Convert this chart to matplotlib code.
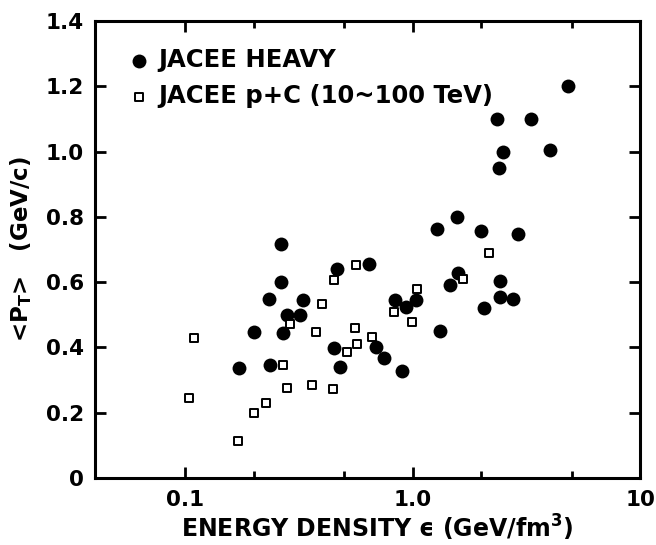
import numpy as np
import matplotlib
matplotlib.use("Agg")
import matplotlib.pyplot as plt
from matplotlib.ticker import FixedLocator, NullFormatter

plt.rcParams['font.family'] = ['DejaVu Sans']
plt.rcParams['mathtext.fontset'] = 'dejavusans'

# JACEE heavy (filled circles)
heavy_eps = [4.8, 2.34, 3.3, 2.5, 4.0, 2.4, 1.28, 1.56, 2.0, 2.9,
             0.265, 0.265, 0.233, 0.33, 0.28, 0.32, 0.2, 0.27, 0.173, 0.237,
             0.466, 0.64, 0.453, 0.48, 0.69, 0.75, 0.9, 0.84, 0.93, 1.03,
             1.32, 1.46, 1.58, 2.05, 2.41, 2.42, 2.75]
heavy_pt = [1.20, 1.10, 1.10, 1.00, 1.005, 0.95, 0.763, 0.80, 0.757, 0.749,
            0.717, 0.60, 0.549, 0.546, 0.50, 0.50, 0.447, 0.444, 0.337, 0.345,
            0.64, 0.656, 0.398, 0.34, 0.401, 0.368, 0.328, 0.547, 0.525, 0.547,
            0.452, 0.592, 0.628, 0.521, 0.603, 0.556, 0.55]

# JACEE p+C (open squares)
pc_eps = [0.109, 0.104, 0.171, 0.2, 0.226, 0.268, 0.28, 0.29, 0.36, 0.375,
          0.4, 0.45, 0.447, 0.565, 0.555, 0.567, 0.515, 0.664, 0.83, 1.04,
          0.99, 1.66, 2.17]
pc_pt = [0.428, 0.246, 0.113, 0.198, 0.23, 0.347, 0.277, 0.471, 0.284, 0.448,
         0.533, 0.608, 0.274, 0.652, 0.46, 0.41, 0.386, 0.432, 0.508, 0.58,
         0.477, 0.61, 0.69]

xticks = [0.1, 1.0, 10]
xtick_labels = ['0.1', '1.0', '10']
yticks = [0, 0.2, 0.4, 0.6, 0.8, 1.0, 1.2, 1.4]
ytick_labels = ['0', '0.2', '0.4', '0.6', '0.8', '1.0', '1.2', '1.4']

fig = plt.figure(figsize=(6.56, 5.45), dpi=100)
ax = fig.add_axes([0.145, 0.123, 0.831, 0.838])

ax.scatter(heavy_eps, heavy_pt, s=100, c='black', marker='o', linewidths=0,
           label='JACEE HEAVY', zorder=3)
ax.scatter(pc_eps, pc_pt, s=32, facecolors='white', edgecolors='black',
           marker='s', linewidths=1.4, label='JACEE p+C (10~100 TeV)', zorder=4)

ax.set_xscale('log')
ax.set_xlim(0.0402, 10)
ax.set_ylim(0, 1.4)

ax.xaxis.set_major_locator(FixedLocator(xticks))
ax.set_xticklabels(xtick_labels)
ax.xaxis.set_minor_locator(FixedLocator([0.2, 0.5, 2, 5]))
ax.xaxis.set_minor_formatter(NullFormatter())
ax.set_yticks(yticks)
ax.set_yticklabels(ytick_labels)

for s in ax.spines.values():
    s.set_linewidth(2.2)
ax.tick_params(which='both', direction='in', top=True, right=True, width=2,
               labelsize=15.5)
ax.tick_params(which='major', length=8)
ax.tick_params(which='minor', length=5)
for lab in ax.get_xticklabels() + ax.get_yticklabels():
    lab.set_fontweight('bold')
ax.tick_params(axis='x', pad=9)
ax.tick_params(axis='y', pad=8)

ax.set_xlabel('ENERGY DENSITY \u03f5 (GeV/fm$^{\\mathbf{3}}$)', fontsize=17,
              fontweight='bold', va='center')
ax.xaxis.set_label_coords(0.517, -0.11)
ax.set_ylabel(r'<P$_{\mathbf{T}}$>   (GeV/c)', fontsize=16.5, fontweight='bold',
              va='center')
ax.yaxis.set_label_coords(-0.135, 0.5)

leg = ax.legend(loc='upper left', bbox_to_anchor=(0.04, 0.962), frameon=False,
                fontsize=17.5, handletextpad=0.3, borderaxespad=0,
                labelspacing=0.5, handlelength=1.0, scatterpoints=1)
for t in leg.get_texts():
    t.set_fontweight('bold')

fig.savefig('out.png', dpi=100)
